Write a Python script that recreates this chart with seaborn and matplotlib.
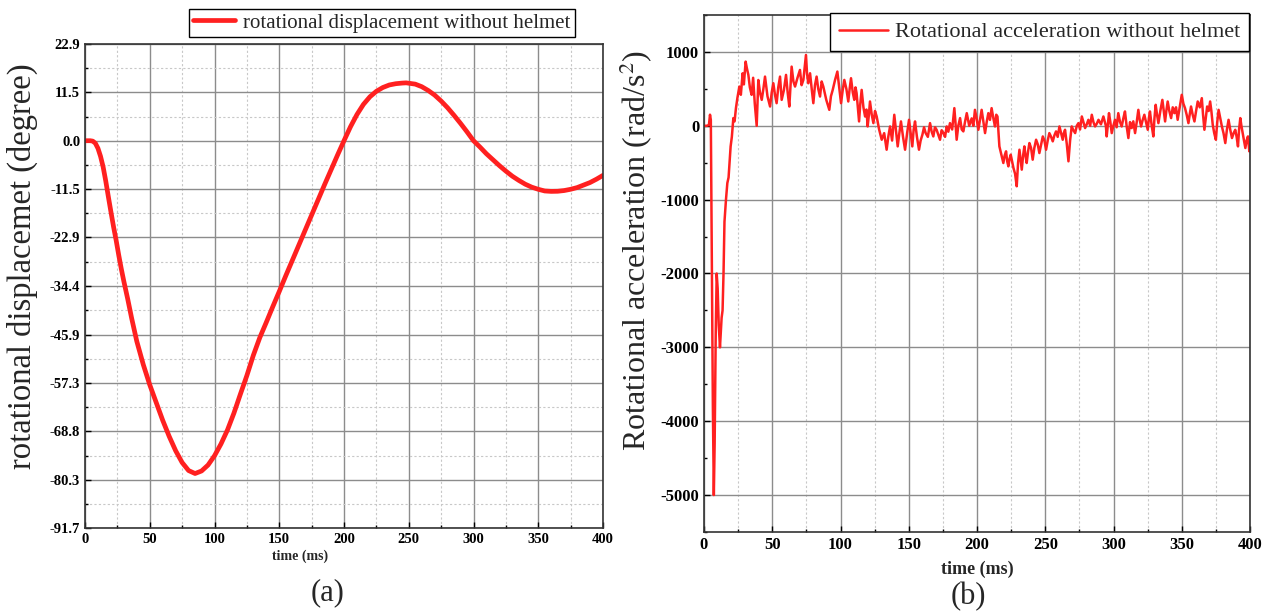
import numpy as np
import pandas as pd
import seaborn as sns
import matplotlib.pyplot as plt
from matplotlib.ticker import MultipleLocator, FixedLocator

# (a) rotational displacement (degree) vs time (ms)
disp_time = [0, 4, 6, 8, 10, 12, 14, 16, 18, 20, 22, 24, 26, 28, 30, 33, 36, 40, 45, 50,
             55, 60, 65, 70, 75, 80, 85, 90, 95, 100, 105, 110, 115, 120, 125, 130, 135, 140,
             145, 150, 155, 160, 165, 170, 175, 180, 185, 190, 195, 200, 205, 210, 215, 220,
             225, 230, 235, 240, 245, 248, 255, 260, 265, 270, 275, 280, 285, 290, 295, 300,
             305, 310, 315, 320, 325, 330, 335, 340, 345, 350, 355, 360, 365, 370, 375, 380,
             385, 390, 395, 400]
disp_deg = [0, 0, -0.1, -0.6, -1.8, -3.7, -6.2, -9.5, -13.2, -16.8, -20.3, -23.5, -27.0, -30.3,
            -33.3, -37.5, -42.0, -47.5, -53.0, -57.8, -62.0, -66.2, -70.0, -73.4, -76.2, -78.1,
            -78.8, -78.2, -76.8, -74.6, -71.8, -68.5, -64.5, -60.0, -55.6, -50.8, -46.6, -43.0,
            -39.3, -35.7, -32.0, -28.4, -24.8, -21.2, -17.6, -14.0, -10.4, -6.9, -3.4, 0.0,
            3.3, 6.2, 8.6, 10.4, 11.7, 12.6, 13.2, 13.5, 13.65, 13.7, 13.4, 12.8, 11.9, 10.8,
            9.4, 7.8, 6.0, 4.1, 2.1, 0.0, -1.5, -3.1, -4.5, -5.9, -7.2, -8.4, -9.4, -10.3,
            -11.0, -11.5, -11.9, -12.0, -11.97, -11.8, -11.5, -11.1, -10.5, -9.9, -9.1, -8.2]
disp_ticks = [-91.7, -80.3, -68.8, -57.3, -45.9, -34.4, -22.9, -11.5, 0.0, 11.5, 22.9]

# (b) rotational acceleration (rad/s^2) vs time (ms)
acc_time = [0, 2, 3.6, 4.4, 5.0, 5.6, 6.5, 7.2, 7.8, 8.6, 9.3, 10.0, 10.8, 11.7, 12.3, 12.9,
            13.6, 14.3, 15.0, 16.1, 17.1, 18.0, 18.7, 19.5, 20.4, 21.5, 22.4, 23.4, 24.5, 25.9,
            27.0, 28.3, 29.2, 30.5, 31.4, 32.5, 33.6, 34.9, 36.0, 37.2, 38.6, 39.8, 41.0, 42.3,
            43.5, 44.7, 46.5, 48.4, 49.6, 50.8, 52.0, 53.2, 54.4, 55.7, 56.9, 58.5, 60.1, 61.3,
            62.5, 64.2, 65.5, 66.7, 68.5, 70.3, 71.5, 72.8, 74.7, 75.5, 76.4, 77.7, 78.9, 80.1,
            81.3, 82.5, 83.7, 85.0, 86.2, 87.4, 89.6, 91.8, 93.0, 94.3, 96.0, 97.7, 100.4, 101.6,
            102.8, 104.3, 105.7, 106.7, 107.7, 109.0, 110.1, 111.0, 111.8, 113.6, 114.5, 115.5,
            116.8, 118.0, 119.0, 119.9, 120.8, 121.6, 122.9, 124.1, 125.3, 126.5, 128.3, 130.2,
            132.0, 133.8, 135.0, 136.3, 137.8, 139.4, 140.6, 141.9, 143.1, 144.3, 145.8, 147.3,
            148.8, 150.2, 151.4, 152.6, 153.6, 154.6, 156.0, 157.5, 158.7, 160.0, 161.2, 162.4,
            164.0, 165.6, 166.8, 168.0, 169.2, 170.4, 171.6, 172.9, 174.1, 175.4, 176.6, 177.8,
            179.0, 180.2, 181.8, 183.4, 184.2, 185.1, 186.3, 187.6, 188.8, 190.0, 191.2, 192.5,
            194.3, 196.1, 197.3, 198.5, 199.7, 201.0, 202.2, 203.4, 204.6, 205.9, 207.1, 208.3,
            209.5, 210.7, 212.0, 213.2, 214.1, 215.0, 216.4, 218.1, 219.3, 220.3, 221.3, 222.1,
            223.0, 223.8, 224.7, 225.7, 226.7, 227.9, 229.1, 230.1, 231.1, 231.9, 232.8, 233.8,
            234.7, 235.5, 236.4, 237.4, 238.4, 239.6, 240.8, 242.0, 243.3, 244.5, 245.7, 247.0,
            248.2, 249.4, 250.6, 251.8, 253.0, 254.3, 255.5, 256.7, 257.9, 259.1, 260.4, 261.6,
            262.8, 263.6, 264.5, 265.8, 267.0, 268.2, 269.4, 270.6, 271.9, 273.1, 274.3, 275.5,
            276.8, 278.0, 279.2, 280.4, 281.6, 282.9, 284.1, 285.3, 286.5, 287.8, 289.0, 290.8,
            292.6, 294.4, 295.0, 296.7, 297.7, 298.7, 299.9, 301.1, 302.3, 303.5, 304.8, 306.0,
            307.2, 308.4, 309.6, 310.9, 312.1, 313.3, 314.5, 315.8, 317.0, 318.2, 319.2, 320.2,
            321.4, 322.6, 323.8, 325.1, 325.9, 326.7, 328.0, 329.2, 330.0, 330.9, 331.9, 332.9,
            334.3, 335.8, 336.8, 337.8, 338.7, 339.7, 340.9, 342.2, 343.4, 344.6, 345.8, 347.0,
            348.5, 350.0, 351.2, 352.4, 353.6, 354.9, 355.8, 356.8, 358.0, 359.3, 360.5, 361.7,
            363.2, 364.7, 365.6, 366.6, 367.6, 368.6, 369.7, 370.8, 371.7, 372.7, 373.8, 375.0,
            376.0, 377.0, 378.2, 379.4, 380.6, 381.9, 383.1, 384.3, 385.5, 386.8, 388.0, 389.2,
            390.2, 391.2, 392.0, 392.9, 393.7, 394.6, 395.6, 396.6, 397.5, 398.5, 399.5, 400.0]
acc_val = [0, 0, 10, 150, 80, -1500, -3800, -5000, -4300, -2800, -2000, -2200, -2700, -3000,
           -2800, -2600, -2500, -2000, -1300, -1000, -775, -700, -500, -280, -150, 104, 60, 239,
           380, 531, 420, 711, 560, 869, 780, 689, 520, 419, 650, 300, 0, 620, 450, 351, 500, 666,
           400, 261, 450, 576, 420, 306, 520, 666, 351, 480, 689, 450, 261, 801, 600, 531, 650,
           756, 550, 621, 959, 700, 576, 711, 500, 306, 550, 666, 500, 396, 600, 531, 350, 216,
           400, 486, 620, 734, 306, 480, 621, 500, 329, 500, 644, 450, 351, 520, 441, 59, 300,
           486, 250, 126, 220, -9, 150, 329, 150, 36, 200, 126, -50, -189, -100, -324, -150, -9,
           -200, 149, -50, -279, -100, 59, -150, -324, -100, 81, -100, -279, -50, 59, -150, -324,
           -200, -121, -20, -99, -150, 36, -80, -144, -20, -54, -120, -189, -60, -99, -150, -9,
           -80, 36, -50, 239, 50, -189, 0, 104, -50, -76, 50, 171, 0, 100, 0, 216, 100, -54, 80,
           216, 60, -99, 50, 171, 80, 239, 100, -9, 150, 126, -279, -414, -504, -400, -346, -480,
           -549, -450, -391, -480, -571, -650, -819, -500, -324, -450, -594, -400, -279, -400,
           -504, -350, -234, -300, -459, -300, -189, -250, -369, -250, -144, -200, -324, -200,
           -99, -150, -211, -130, -76, -150, -9, -100, -189, -100, -54, -250, -481, -200, -9,
           -60, -99, 0, 36, -50, 126, 50, -31, 20, 81, 0, 149, 50, -9, 30, 81, 20, 126, 0, -144,
           171, 50, -99, 0, 81, -20, 171, 50, -9, 100, 194, 0, -166, 50, -31, 60, -99, 50, 216,
           80, -9, 80, 149, 50, -54, 100, 194, 0, -144, 100, 284, 150, 36, 200, 351, 200, 59, 200,
           329, 200, 104, 250, 171, 250, 81, 250, 419, 300, 239, 150, 36, 150, 261, 150, 59, 200,
           329, 250, 374, 150, -54, 100, 261, 200, 329, 200, 14, -100, -189, 50, 216, 100, -9,
           -100, -234, -50, 81, -50, -166, -100, -54, -150, -279, -50, 104, 0, -99, -200, -301,
           -200, -144, -346, -300]

df_a = pd.DataFrame({"t": disp_time, "v": disp_deg})
df_b = pd.DataFrame({"t": acc_time, "v": acc_val})

sns.set_theme(style="white")
plt.rcParams['font.family'] = ['Liberation Serif', 'DejaVu Serif']
plt.rcParams['mathtext.fontset'] = 'stix'
plt.rcParams['axes.unicode_minus'] = False

RED = '#ff2020'
fig = plt.figure(figsize=(12.69, 6.14), dpi=100)
ax1 = fig.add_axes([85 / 1269, 1 - 528 / 614, 518 / 1269, 484 / 614])
ax2 = fig.add_axes([704 / 1269, 1 - 532 / 614, 546 / 1269, 517 / 614])


def style_axes(ax, tick_size):
    ax.grid(which='major', color='#8c8c8c', lw=1.0, ls='-')
    ax.grid(which='minor', axis='x', color='#c8c8c8', lw=0.8, ls=(0, (2, 2)))
    for sp in ax.spines.values():
        sp.set_color('#333333')
        sp.set_linewidth(1.2)
    ax.tick_params(which='both', direction='in', length=4, width=1, colors='black',
                   labelsize=tick_size, bottom=True, left=True)
    ax.tick_params(which='minor', length=2)
    for lab in ax.get_xticklabels() + ax.get_yticklabels():
        lab.set_fontweight('bold')
    ax.set_axisbelow(True)


sns.lineplot(data=df_a, x='t', y='v', ax=ax1, color=RED, lw=3.4, sort=False,
             estimator=None, label='rotational displacement without helmet')
ax1.set_xlim(0, 400)
ax1.set_ylim(-91.7, 22.9)
ax1.xaxis.set_major_locator(MultipleLocator(50))
ax1.xaxis.set_minor_locator(MultipleLocator(25))
ax1.yaxis.set_major_locator(FixedLocator(disp_ticks))
ax1.yaxis.set_minor_locator(FixedLocator([a + 5.73 for a in disp_ticks[:-1]]))
ax1.set_yticklabels([f'{v:.1f}' for v in disp_ticks])
style_axes(ax1, 10.5)
ax1.grid(which='minor', axis='y', color='#c8c8c8', lw=0.8, ls=(0, (2, 2)))
ax1.set_xlabel('time (ms)', fontsize=10, fontweight='bold', labelpad=1)
ax1.xaxis.set_label_coords(0.415, -0.045)
ax1.set_ylabel('rotational displacemet (degree)', fontsize=23.5)
ax1.yaxis.set_label_coords(-0.09, 0.541)
leg1 = ax1.legend(loc='upper right', bbox_to_anchor=(575 / 1269, 1 - 9 / 614),
                  bbox_transform=fig.transFigure, fancybox=False, edgecolor='black',
                  framealpha=1, fontsize=15, handlelength=2.0, borderpad=0.2,
                  borderaxespad=0, handletextpad=0.4)
leg1.get_frame().set_linewidth(1.0)

sns.lineplot(data=df_b, x='t', y='v', ax=ax2, color=RED, lw=1.8, sort=False,
             estimator=None, label='Rotational acceleration without helmet')
ax2.set_xlim(0, 400)
ax2.set_ylim(-5500, 1500)
ax2.xaxis.set_major_locator(MultipleLocator(50))
ax2.xaxis.set_minor_locator(MultipleLocator(25))
ax2.yaxis.set_major_locator(FixedLocator([-5000, -4000, -3000, -2000, -1000, 0, 1000]))
ax2.yaxis.set_minor_locator(MultipleLocator(500))
style_axes(ax2, 12)
ax2.set_xlabel('time (ms)', fontsize=13, fontweight='bold', labelpad=1)
ax2.xaxis.set_label_coords(0.5, -0.055)
ax2.set_ylabel('Rotational acceleration (rad/s$^2$)', fontsize=23)
ax2.yaxis.set_label_coords(-0.09, 0.545)
leg2 = ax2.legend(loc='upper right', bbox_to_anchor=(1249 / 1269, 1 - 13 / 614),
                  bbox_transform=fig.transFigure, fancybox=False, edgecolor='black',
                  framealpha=1, fontsize=16, handlelength=2.2, borderpad=0.4,
                  borderaxespad=0, handletextpad=0.3)
leg2.get_frame().set_linewidth(1.0)

fig.text(328 / 1269, 1 - 593 / 614, '(a)', fontsize=22, ha='center', va='center')
fig.text(968 / 1269, 1 - 597 / 614, '(b)', fontsize=22, ha='center', va='center')

fig.savefig('out.png', dpi=100, facecolor='white')
